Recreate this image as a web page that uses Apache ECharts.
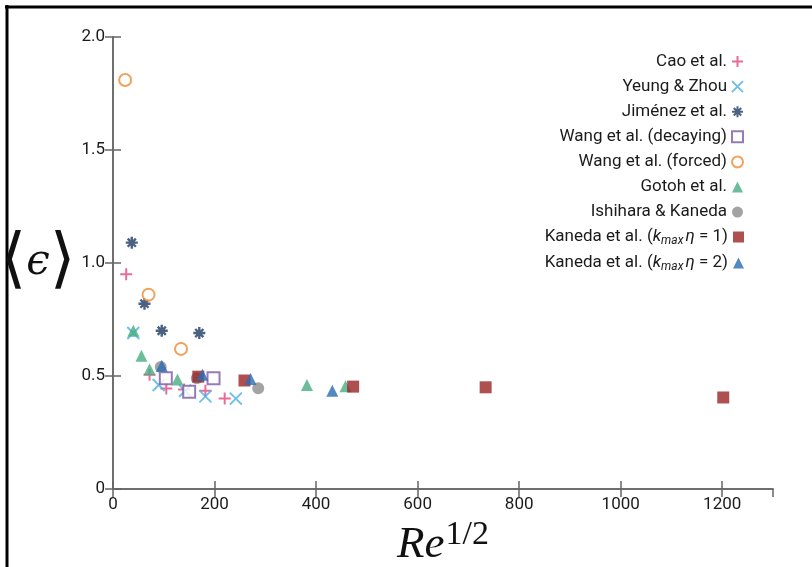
<!DOCTYPE html>
<html><head><meta charset="utf-8">
<script src="https://cdn.jsdelivr.net/npm/echarts@6/dist/echarts.min.js"></script>
<style>html,body{margin:0;padding:0;background:#fff}#c{width:812px;height:567px}</style>
</head><body><div id="c"></div>
<script>
// tick values
const xTickValues = [0, 200, 400, 600, 800, 1000, 1200];
const yTickValues = [0, 0.5, 1.0, 1.5, 2.0];

// series names
const seriesNames = [
  'Cao et al.', 'Yeung & Zhou', 'Jiménez et al.', 'Wang et al. (decaying)',
  'Wang et al. (forced)', 'Gotoh et al.', 'Ishihara & Kaneda',
  'Kaneda et al. (kmax η = 1)', 'Kaneda et al. (kmax η = 2)'
];

// data: [Re^{1/2}, <epsilon>]
const caoData = [[26, 0.95], [72, 0.505], [105, 0.445], [140, 0.44], [182, 0.435], [220, 0.40]];
const yeungData = [[40, 0.69], [90, 0.46], [142, 0.435], [182, 0.41], [242, 0.40]];
const jimenezData = [[37, 1.09], [62, 0.82], [96, 0.70], [170, 0.69]];
const wangDecayData = [[104, 0.49], [150, 0.43], [198, 0.49]];
const wangForcedData = [[24, 1.81], [70, 0.86], [134, 0.62]];
const gotohData = [[40, 0.70], [56, 0.59], [72, 0.53], [127, 0.485], [382, 0.46], [458, 0.455]];
const ishiharaData = [[94, 0.54], [165, 0.49], [286, 0.446]];
const kaneda1Data = [[168, 0.497], [259, 0.48], [473, 0.453], [734, 0.45], [1202, 0.405]];
const kaneda2Data = [[96, 0.545], [176, 0.505], [271, 0.487], [432, 0.435]];

const PLUS = 'path://M5,0L5,10M0,5L10,5';
const CROSS = 'path://M0,0L10,10M10,0L0,10';
const STAR = 'path://M5,0L5,10M0,5L10,5M1.6,1.6L8.4,8.4M8.4,1.6L1.6,8.4';

const FONT = 'Roboto';

function sc(name, data, symbol, size, color, hollow, bw) {
  return {
    name: name, type: 'scatter', data: data, symbol: symbol, symbolSize: size,
    itemStyle: hollow
      ? { color: '#ffffff', borderColor: color, borderWidth: bw || 2 }
      : (bw ? { color: color, borderColor: color, borderWidth: bw } : { color: color }),
    emphasis: { disabled: true }
  };
}

const series = [
  sc(seriesNames[0], caoData, PLUS, 12, '#e2477d', false, 2),
  sc(seriesNames[1], yeungData, CROSS, 12, '#4db2df', false, 2),
  sc(seriesNames[2], jimenezData, STAR, 12, '#1d3a63', false, 2.4),
  sc(seriesNames[3], wangDecayData, 'rect', 12, '#7b5ba6', true, 2),
  sc(seriesNames[4], wangForcedData, 'circle', 12, '#ee8a32', true, 2),
  sc(seriesNames[5], gotohData, 'triangle', 12, '#46ad82', false),
  sc(seriesNames[6], ishiharaData, 'circle', 12, '#8c8c8c', false),
  sc(seriesNames[7], kaneda1Data, 'rect', 12, '#9a2424', false),
  sc(seriesNames[8], kaneda2Data, 'triangle', 12, '#2a6cb3', false)
];

const axisLineStyle = { color: '#666', width: 1.5 };
const labelStyle = { color: '#1a1a1a', fontFamily: FONT, fontSize: 17 };

const legendText = { color: '#1a1a1a', fontFamily: FONT, fontSize: 17, lineHeight: 16 };

const chart = echarts.init(document.getElementById('c'), null, { renderer: 'canvas' });
chart.setOption({
  animation: false,
  backgroundColor: '#fff',
  grid: { left: 113, top: 37, right: 39, bottom: 78, outerBoundsMode: 'none', containLabel: false },
  xAxis: [{
    type: 'value', min: 0, max: 1300, interval: 200, position: 'bottom',
    axisLine: { show: true, lineStyle: axisLineStyle },
    axisTick: { show: true, inside: true, length: 8, lineStyle: axisLineStyle },
    axisLabel: Object.assign({ margin: 7, showMaxLabel: false,
      formatter: v => (xTickValues.indexOf(v) >= 0 ? String(v) : '') }, labelStyle),
    splitLine: { show: false },
    name: '{re|Re}{sup|1/2}', nameLocation: 'middle', nameGap: 20,
    nameTextStyle: { rich: {
      re: { fontFamily: 'Liberation Serif', fontStyle: 'italic', fontSize: 45, color: '#111', lineHeight: 50, verticalAlign: 'bottom' },
      sup: { fontFamily: 'Liberation Serif', fontSize: 34, color: '#111', lineHeight: 50, verticalAlign: 'top', padding: [0, 0, 18, 1] }
    } }
  }, {
    type: 'value', min: 0, max: 1300, interval: 200, position: 'top',
    axisLine: { show: true, lineStyle: axisLineStyle },
    axisTick: { show: true, inside: true, length: 8, lineStyle: axisLineStyle },
    axisLabel: { show: false }, splitLine: { show: false }
  }],
  yAxis: [{
    type: 'value', min: 0, max: 2, interval: 0.5, position: 'left',
    axisLine: { show: true, lineStyle: axisLineStyle },
    axisTick: { show: true, inside: true, length: 8, lineStyle: axisLineStyle },
    axisLabel: Object.assign({ margin: 8,
      formatter: v => (v === 0 ? '0' : v.toFixed(1)) }, labelStyle),
    splitLine: { show: false },
    name: '{b|⟨}{e|ϵ}{b|⟩}', nameLocation: 'middle', nameRotate: 0, nameGap: 41,
    nameTextStyle: { align: 'center', verticalAlign: 'middle', rich: {
      b: { fontFamily: 'DejaVu Serif', fontSize: 66, color: '#111', lineHeight: 76 },
      e: { fontFamily: 'DejaVu Serif', fontStyle: 'italic', fontSize: 42, color: '#111', lineHeight: 76 }
    } }
  }, {
    type: 'value', min: 0, max: 2, interval: 0.5, position: 'right',
    axisLine: { show: true, lineStyle: axisLineStyle },
    axisTick: { show: true, inside: true, length: 8, lineStyle: axisLineStyle },
    axisLabel: { show: false }, splitLine: { show: false }
  }],
  legend: [{
    orient: 'vertical', align: 'right', right: 63, top: 48,
    itemWidth: 11, itemHeight: 11, itemGap: 8.1,
    selectedMode: false,
    data: seriesNames.slice(0, 7),
    textStyle: legendText
  }, {
    orient: 'vertical', align: 'right', right: 63, top: 222,
    itemWidth: 11, itemHeight: 11, itemGap: 6,
    selectedMode: false,
    data: seriesNames.slice(7),
    formatter: function (name) {
      const n = name.indexOf('= 1') >= 0 ? '1' : '2';
      return '{t|Kaneda et al. (}{i|k}{s|max}{i|η}{t| = ' + n + ')}';
    },
    textStyle: Object.assign({}, legendText, { rich: {
      t: { fontFamily: FONT, fontSize: 17, color: '#1a1a1a', lineHeight: 20 },
      i: { fontFamily: FONT, fontStyle: 'italic', fontSize: 17, color: '#1a1a1a', lineHeight: 20 },
      s: { fontFamily: FONT, fontStyle: 'italic', fontSize: 12, color: '#1a1a1a', lineHeight: 20, verticalAlign: 'bottom', padding: [6, 2, 0, 0] }
    } })
  }],
  graphic: [
    { type: 'line', shape: { x1: 7, y1: 5, x2: 7, y2: 567 }, style: { stroke: '#000', lineWidth: 3 } },
    { type: 'line', shape: { x1: 5, y1: 7, x2: 812, y2: 7 }, style: { stroke: '#000', lineWidth: 3 } }
  ],
  series: series
});
</script></body></html>
